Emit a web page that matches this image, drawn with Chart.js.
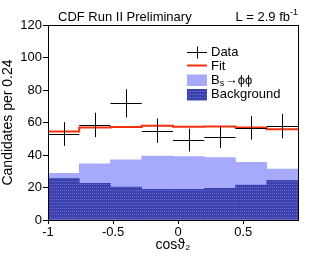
<!DOCTYPE html>
<html>
<head>
<meta charset="utf-8">
<script src="https://cdn.jsdelivr.net/npm/chart.js@4"></script>
<style>
  body { margin: 0; background: #fff; }
</style>
</head>
<body>
<canvas id="chart" width="332" height="256"></canvas>
<script>
// values, 8 bins of width 0.24
const binCenters = [-0.88, -0.64, -0.40, -0.16, 0.08, 0.32, 0.56, 0.80];
const dataValues = [52.9, 58.5, 71.8, 55.0, 49.2, 50.9, 56.8, 57.8];
const dataErrors = [7.3, 7.5, 8.7, 7.5, 7.0, 6.7, 7.3, 7.5];
const fitValues = [54.4, 57.0, 57.2, 58.0, 57.4, 57.6, 57.0, 55.8];
const backgroundValues = [25.6, 22.6, 20.3, 18.9, 18.9, 19.5, 21.5, 24.4];
const signalValues = [3.1, 11.9, 16.7, 20.5, 20.1, 18.9, 14.0, 6.9];
const xTicks = [-1, -0.5, 0, 0.5];
const binWidth = 0.24;

const FONT = "'Liberation Sans', Arial, sans-serif";
const lightBlue = '#a7a9fa';
const darkBlue = '#3b41ae';
const fitRed = '#f5300f';

// dotted fill used for the background component
function makePattern() {
    const c = document.createElement('canvas');
    c.width = 2; c.height = 3;
    const g = c.getContext('2d');
    g.fillStyle = darkBlue;
    g.fillRect(0, 0, 2, 3);
    g.fillStyle = '#676cca';
    g.fillRect(0, 1, 1, 1);
    return g.createPattern(c, 'repeat');
}
const bgPattern = makePattern();

const fitPoints = binCenters.map((c, i) => ({ x: c - binWidth / 2, y: fitValues[i] }));
fitPoints.push({ x: binCenters[binCenters.length - 1] + binWidth / 2, y: fitValues[fitValues.length - 1] });

const extras = {
    id: 'extras',
    afterDatasetsDraw(chart) {
        const { ctx, chartArea: a, scales: { x, y } } = chart;
        ctx.save();
        // data points with error bars
        ctx.strokeStyle = '#000';
        ctx.lineWidth = 1;
        binCenters.forEach((c, i) => {
            const px = Math.round(x.getPixelForValue(c)) + 0.5;
            const py = Math.round(y.getPixelForValue(dataValues[i])) + 0.5;
            ctx.beginPath();
            ctx.moveTo(x.getPixelForValue(c - binWidth / 2), py);
            ctx.lineTo(x.getPixelForValue(c + binWidth / 2), py);
            ctx.moveTo(px, y.getPixelForValue(dataValues[i] + dataErrors[i]));
            ctx.lineTo(px, y.getPixelForValue(dataValues[i] - dataErrors[i]));
            ctx.stroke();
        });

        // legend
        const lx = 187, lw = 20, tx = 211;
        ctx.font = '13px ' + FONT;
        ctx.fillStyle = '#000';
        ctx.textBaseline = 'middle';
        ctx.beginPath();
        ctx.moveTo(lx, 52.5); ctx.lineTo(lx + lw, 52.5);
        ctx.moveTo(lx + lw / 2 + 0.5, 46.5); ctx.lineTo(lx + lw / 2 + 0.5, 58.5);
        ctx.stroke();
        ctx.fillText('Data', tx, 52.5);

        ctx.strokeStyle = fitRed;
        ctx.lineWidth = 2;
        ctx.beginPath();
        ctx.moveTo(lx, 65.5); ctx.lineTo(lx + lw, 65.5);
        ctx.stroke();
        ctx.fillText('Fit', tx, 66.5);

        ctx.fillStyle = lightBlue;
        ctx.fillRect(lx, 74.5, lw, 11.5);
        ctx.fillStyle = '#000';
        ctx.fillText('B', tx, 80.5);
        let w = ctx.measureText('B').width;
        ctx.font = '9px ' + FONT;
        ctx.fillText('s', tx + w, 84);
        w += ctx.measureText('s').width + 0.5;
        ctx.font = '13px ' + FONT;
        ctx.fillText('\u2192\u03d5\u03d5', tx + w, 80.5);

        ctx.fillStyle = bgPattern;
        ctx.fillRect(lx, 89, lw, 11.5);
        ctx.fillStyle = '#000';
        ctx.fillText('Background', tx, 94.5);

        // frame
        ctx.strokeStyle = '#000';
        ctx.lineWidth = 1;
        ctx.strokeRect(Math.round(a.left) + 0.5, Math.round(a.top) + 0.5,
            Math.round(a.right - a.left), Math.round(a.bottom - a.top));
        ctx.restore();
    },
    afterDraw(chart) {
        const { ctx, chartArea: a } = chart;
        ctx.save();
        ctx.fillStyle = '#000';
        ctx.textBaseline = 'alphabetic';
        ctx.font = '13px ' + FONT;
        ctx.fillText('CDF Run II Preliminary', 58, 21);
        ctx.font = '9px ' + FONT;
        const sup = ctx.measureText('-1').width;
        ctx.font = '13px ' + FONT;
        const main = ctx.measureText('L = 2.9 fb').width;
        const right = a.right;
        ctx.fillText('L = 2.9 fb', right - sup - main, 21);
        ctx.font = '9px ' + FONT;
        ctx.fillText('-1', right - sup, 15);
        ctx.restore();
    }
};

Chart.defaults.font.family = FONT;
Chart.defaults.font.size = 13;
Chart.defaults.color = '#000';

new Chart(document.getElementById('chart'), {
    type: 'bar',
    data: {
        datasets: [
            {
                label: 'Background',
                data: binCenters.map((c, i) => ({ x: c, y: backgroundValues[i] })),
                backgroundColor: bgPattern,
                borderWidth: 0,
                barPercentage: 1,
                categoryPercentage: 1,
                order: 2
            },
            {
                label: 'Bs->phiphi',
                data: binCenters.map((c, i) => ({ x: c, y: signalValues[i] })),
                backgroundColor: lightBlue,
                borderWidth: 0,
                barPercentage: 1,
                categoryPercentage: 1,
                order: 2
            },
            {
                type: 'line',
                label: 'Fit',
                stack: 'fit',
                data: fitPoints,
                borderColor: fitRed,
                borderWidth: 2,
                stepped: 'before',
                pointRadius: 0,
                fill: false,
                order: 1
            }
        ]
    },
    options: {
        responsive: false,
        animation: false,
        layout: { padding: { top: 25, right: 34, left: 0, bottom: 0 } },
        plugins: { legend: { display: false }, tooltip: { enabled: false } },
        scales: {
            x: {
                type: 'linear',
                min: -1,
                max: 0.92,
                stacked: true,
                offset: false,
                afterBuildTicks: s => { s.ticks = xTicks.map(v => ({ value: v })); },
                afterFit: s => { s.height = 36; },
                grid: { drawOnChartArea: false, offset: false, tickLength: 4, tickColor: '#000' },
                border: { color: '#000' },
                ticks: { padding: 1, maxRotation: 0, callback: v => String(v) },
                title: { display: true, text: 'cos\u03d1\u2082', font: { size: 14 }, padding: { top: 0, bottom: 2 } }
            },
            y: {
                min: 0,
                max: 120,
                stacked: true,
                afterFit: s => { s.width = 48; },
                grid: { drawOnChartArea: false, tickLength: 5, tickColor: '#000' },
                border: { color: '#000' },
                ticks: { stepSize: 20, padding: 1 },
                title: { display: true, text: 'Candidates per 0.24', font: { size: 14 }, padding: { top: 0, bottom: 0 } }
            }
        }
    },
    plugins: [extras]
});
</script>
</body>
</html>
